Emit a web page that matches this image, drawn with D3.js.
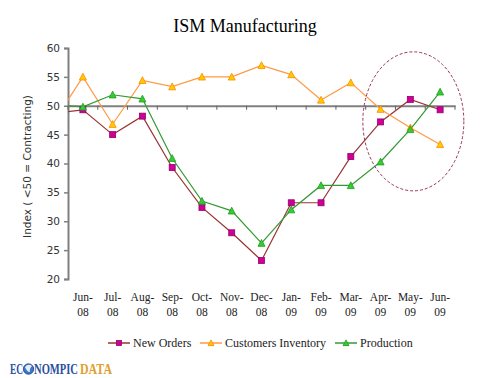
<!DOCTYPE html>
<html>
<head>
<meta charset="utf-8">
<script src="https://cdn.jsdelivr.net/npm/d3@7"></script>
<style>
  body { margin: 0; background: #fff; }
  svg { display: block; }
</style>
</head>
<body>
<div id="chart"></div>
<script>
// data
var months = ["May-08", "Jun-08", "Jul-08", "Aug-08", "Sep-08", "Oct-08", "Nov-08", "Dec-08",
              "Jan-09", "Feb-09", "Mar-09", "Apr-09", "May-09", "Jun-09"];
var newOrders  = [48.7, 49.3, 45.0, 48.2, 39.3, 32.4, 28.0, 23.2, 33.2, 33.2, 41.2, 47.2, 51.1, 49.3];
var custInv    = [47.0, 55.0, 46.8, 54.4, 53.3, 55.0, 55.0, 57.0, 55.4, 51.0, 54.0, 49.4, 46.2, 43.3];
var production = [50.2, 49.8, 51.9, 51.2, 40.9, 33.5, 31.8, 26.2, 32.0, 36.2, 36.2, 40.3, 45.9, 52.4];
var yTicks = [20, 25, 30, 35, 40, 45, 50, 55, 60];

var W = 504, H = 378;
var M = { TOP: 48, BOTTOM: 99, LEFT: 68, RIGHT: 49 };
var width = W - M.LEFT - M.RIGHT, height = H - M.TOP - M.BOTTOM;

var svg = d3.select("#chart").append("svg")
    .attr("width", W).attr("height", H);

svg.append("text")
    .attr("x", 245).attr("y", 32)
    .attr("text-anchor", "middle")
    .style("font-family", "'Liberation Serif', 'DejaVu Serif', serif")
    .style("font-size", "18px")
    .attr("fill", "#000")
    .text("ISM Manufacturing");

var g = svg.append("g")
    .attr("transform", "translate(" + M.LEFT + "," + M.TOP + ")");

// shown months only (first one sits off the left edge)
var shown = months.slice(1);
var x = d3.scaleBand().range([0, width]).domain(shown);
var xc = function(i) {
  // i indexes months; May-08 falls one band to the left
  return (i - 1) * x.step() + x.bandwidth() / 2;
};
var y = d3.scaleLinear().domain([20, 60]).range([height, 0]);

svg.append("defs").append("clipPath").attr("id", "plot")
  .append("rect").attr("x", 0).attr("y", -10).attr("width", width + 10).attr("height", height + 20);

// y axis
var yAxis = g.append("g")
    .call(d3.axisLeft(y).tickValues(yTicks).tickSize(4).tickPadding(4).tickFormat(d3.format("d")));
yAxis.select(".domain").attr("stroke", "#808080").attr("stroke-width", 2);
yAxis.selectAll(".tick line").attr("stroke", "#808080").attr("stroke-width", 1.5);
yAxis.selectAll(".tick text")
    .style("font-family", "'DejaVu Sans', sans-serif")
    .style("font-size", "10.5px").attr("fill", "#333");

// x axis crossing at 50
var xAxis = g.append("g")
    .attr("transform", "translate(0," + y(50) + ")")
    .call(d3.axisBottom(x).tickSize(0).tickFormat(""));
xAxis.select(".domain").attr("stroke", "#808080").attr("stroke-width", 2);
xAxis.selectAll(".tick").remove();
g.append("g").selectAll("line")
  .data(d3.range(shown.length + 1))
  .enter().append("line")
    .attr("x1", function(i) { return i * x.step(); })
    .attr("x2", function(i) { return i * x.step(); })
    .attr("y1", y(50)).attr("y2", y(50) + 4)
    .attr("stroke", "#606060").attr("stroke-width", 1);

// month labels, two lines
var lab = g.append("g").selectAll("text")
  .data(shown)
  .enter().append("text")
    .attr("x", function(d) { return x(d) + x.bandwidth() / 2; })
    .attr("text-anchor", "middle")
    .style("font-family", "'Liberation Serif', 'DejaVu Serif', serif")
    .style("font-size", "11.5px")
    .attr("fill", "#222");
lab.append("tspan").attr("x", function(d) { return x(d) + x.bandwidth() / 2; })
    .attr("y", height + 22).text(function(d) { return d.split("-")[0] + "-"; });
lab.append("tspan").attr("x", function(d) { return x(d) + x.bandwidth() / 2; })
    .attr("y", height + 37).text(function(d) { return d.split("-")[1]; });

// axis title
svg.append("text")
    .attr("transform", "translate(31," + (M.TOP + height / 2 + 3) + ") rotate(-90)")
    .attr("text-anchor", "middle")
    .style("font-family", "'DejaVu Sans', sans-serif")
    .style("font-size", "10.5px")
    .attr("fill", "#333")
    .text("Index ( <50 = Contracting)");

var series = [
  { name: "New Orders", vals: newOrders, line: "#993333", fill: "#CC0099", stroke: "#990066", shape: "square" },
  { name: "Customers Inventory", vals: custInv, line: "#FF9944", fill: "#FFCC00", stroke: "#FF8800", shape: "triangle" },
  { name: "Production", vals: production, line: "#339933", fill: "#33CC33", stroke: "#229922", shape: "triangle" }
];

var line = d3.line()
    .x(function(d, i) { return xc(i); })
    .y(function(d) { return y(d); });

function marker(sel, s, sz) {
  if (s.shape === "square") {
    sel.append("rect").attr("x", -sz / 2).attr("y", -sz / 2).attr("width", sz).attr("height", sz)
      .attr("fill", s.fill).attr("stroke", s.stroke).attr("stroke-width", 0.8);
  } else {
    var h = sz * 1.05;
    sel.append("path")
      .attr("d", "M0," + (-h / 2 - 0.5) + "L" + (sz / 2 + 0.5) + "," + (h / 2) + "L" + (-sz / 2 - 0.5) + "," + (h / 2) + "Z")
      .attr("fill", s.fill).attr("stroke", s.stroke).attr("stroke-width", 0.8);
  }
}

var plot = g.append("g").attr("clip-path", "url(#plot)");
series.forEach(function(s) {
  plot.append("path").datum(s.vals)
    .attr("d", line)
    .attr("fill", "none").attr("stroke", s.line).attr("stroke-width", 1.2);
});
series.forEach(function(s) {
  s.vals.forEach(function(v, i) {
    if (i === 0) return;
    var m = g.append("g").attr("transform", "translate(" + xc(i) + "," + y(v) + ")");
    marker(m, s, 6);
  });
});

// dashed ellipse around the last months
g.append("ellipse")
    .attr("cx", xc(12) + 3).attr("cy", y(47.3))
    .attr("rx", 50.5).attr("ry", 69.5)
    .attr("fill", "none").attr("stroke", "#993355")
    .attr("stroke-width", 1).attr("stroke-dasharray", "3,2");

// legend
var legX = [108, 200, 335];
var leg = svg.append("g");
series.forEach(function(s, k) {
  var lg = leg.append("g").attr("transform", "translate(" + legX[k] + ",343)");
  lg.append("line").attr("x1", 0).attr("x2", 22).attr("y1", 0).attr("y2", 0)
    .attr("stroke", s.line).attr("stroke-width", 1.5);
  marker(lg.append("g").attr("transform", "translate(11,0)"), s, 5);
  lg.append("text").attr("x", 25).attr("y", 4)
    .style("font-family", "'Liberation Serif', 'DejaVu Serif', serif")
    .style("font-size", "12px").attr("fill", "#222")
    .text(s.name);
});

// logo
var logoParts = [
  { t: "EC", x: 10, w: 13, c: "#2b4f9e" },
  { t: "NOMPIC", x: 34, w: 44, c: "#2b4f9e" },
  { t: "DATA", x: 80, w: 32, c: "#e0a030" }
];
var logo = svg.append("g");
logoParts.forEach(function(p) {
  logo.append("g").attr("transform", "translate(" + p.x + ",374) scale(1,1.45)")
    .append("text")
    .style("font-family", "'Liberation Serif', serif")
    .style("font-weight", "bold")
    .style("font-size", "10.5px")
    .attr("textLength", p.w).attr("lengthAdjust", "spacingAndGlyphs")
    .attr("fill", p.c)
    .text(p.t);
});
// globe for the O
logo.append("circle").attr("cx", 28.5).attr("cy", 369).attr("r", 5.2)
  .attr("fill", "#3b78c8").attr("stroke", "#1d3f80").attr("stroke-width", 0.8);
logo.append("path").attr("d", "M25,367 Q28,363 32,366 Q29,369 30,372 Q27,372 25,367Z")
  .attr("fill", "#e8eef8");
</script>
</body>
</html>
